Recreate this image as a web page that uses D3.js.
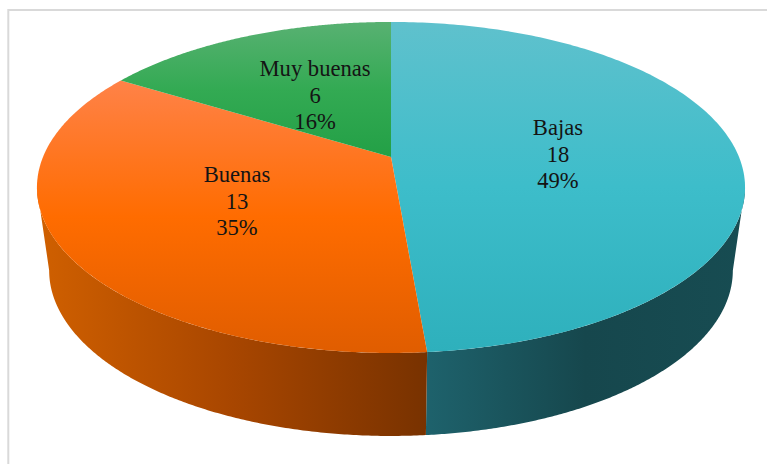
<!DOCTYPE html>
<html>
<head>
<meta charset="utf-8">
<script src="https://cdn.jsdelivr.net/npm/d3@7"></script>
<style>
  html, body { margin: 0; padding: 0; background: #fff; }
  svg { display: block; }
  text { font-family: "Liberation Serif", serif; font-size: 22.6px; fill: #141414; text-anchor: middle; }
</style>
</head>
<body>
<svg id="chart" width="767" height="464"></svg>
<script>
var categories = ["Bajas", "Buenas", "Muy buenas"];
var values = [18, 13, 6];
var percents = ["49%", "35%", "16%"];
// top-face gradient stops (top to bottom of each slice), side-wall stops (left to right)
var topColors = [
  ["#5fc1cd", "#3dbdca", "#2eb0bc"],
  ["#ff8248", "#ff6c00", "#e05d00"],
  ["#58b172", "#33aa53", "#23a046"]
];
var sideColors = [
  ["#1e626c", "#16474d", "#174c52"],
  ["#d06000", "#a84600", "#783200"],
  null
];

var svg = d3.select("#chart");
svg.append("rect").attr("x", 8.3).attr("y", 10).attr("width", 780).attr("height", 480)
  .attr("fill", "#fff").attr("stroke", "#d9d9d9").attr("stroke-width", 2);

// perspective projection of the pie disc: p tilts the near edge towards the viewer
var p = 0.184, cx = 391, topY = 157, depth = 83;
function project(angle, t, wall) {
  var s = Math.sin(angle) * t, c = Math.cos(angle) * t, w = 1 + p * c;
  var a = wall ? 336 : 348;
  return [cx + a * s / w, topY + (wall ? depth : 0) - 159.9 * c / w];
}

var arcs = d3.pie().sort(null).value(function (d) { return d; })(values);
var defs = svg.append("defs");
var line = d3.line();

function gradient(id, colors, x1, y1, x2, y2) {
  var g = defs.append("linearGradient").attr("id", id).attr("gradientUnits", "userSpaceOnUse")
    .attr("x1", x1).attr("y1", y1).attr("x2", x2).attr("y2", y2);
  colors.forEach(function (col, i) {
    g.append("stop").attr("offset", i / (colors.length - 1)).attr("stop-color", col);
  });
}

function edge(a0, a1, wall) {
  return d3.range(0, 201).map(function (i) { return project(a0 + (a1 - a0) * i / 200, 1, wall); });
}

// side walls: only the near half of the rim shows
var rimStart = Math.PI - Math.acos(p), rimEnd = Math.PI + Math.acos(p);
arcs.forEach(function (d, i) {
  if (!sideColors[i]) return;
  var a0 = Math.max(d.startAngle, rimStart), a1 = Math.min(d.endAngle, rimEnd);
  var pts = edge(a0, a1, false).concat(edge(a0, a1, true).reverse());
  var xs = d3.extent(pts, function (q) { return q[0]; });
  gradient("side" + i, sideColors[i], xs[0], 0, xs[1], 0);
  svg.append("path").attr("d", line(pts) + "Z").attr("fill", "url(#side" + i + ")");
});

// top faces
arcs.forEach(function (d, i) {
  var pts = [project(0, 0, false)].concat(edge(d.startAngle, d.endAngle, false));
  var ys = d3.extent(pts, function (q) { return q[1]; });
  gradient("top" + i, topColors[i], 0, ys[0], 0, ys[1]);
  svg.append("path").attr("d", line(pts) + "Z").attr("fill", "url(#top" + i + ")");
});

// labels: name, count, percent
arcs.forEach(function (d, i) {
  var pos = project((d.startAngle + d.endAngle) / 2, i === 1 ? 0.495 : 0.482, false);
  [categories[i], values[i], percents[i]].forEach(function (txt, k) {
    svg.append("text").attr("x", pos[0]).attr("y", pos[1] + 8 + (k - 1) * 26.3).text(txt);
  });
});
</script>
</body>
</html>
